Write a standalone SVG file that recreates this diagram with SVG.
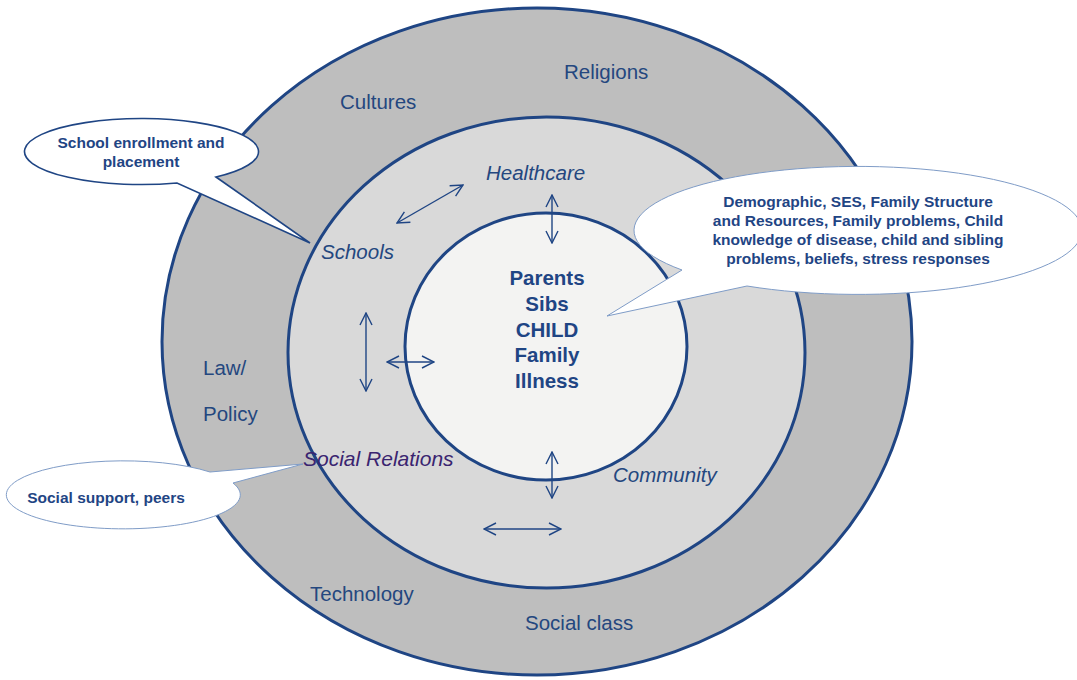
<svg xmlns="http://www.w3.org/2000/svg" width="1077" height="680" viewBox="0 0 1077 680">
  <style>
    .ring { stroke: #1f4584; stroke-width: 3; }
    .lbl { font-family: "Liberation Sans", Arial, sans-serif; font-size: 20.5px; fill: #24477f; }
    .sys { font-family: "Liberation Sans", Arial, sans-serif; font-size: 20.5px; font-style: italic; fill: #24477f; }
    .core { font-family: "Liberation Sans", Arial, sans-serif; font-size: 20.5px; font-weight: bold; fill: #1f4584; text-anchor: middle; }
    .note { font-family: "Liberation Sans", Arial, sans-serif; font-size: 15.5px; font-weight: bold; fill: #1f4584; text-anchor: middle; }
    .link { stroke: #1f4584; stroke-width: 1.4; fill: none; marker-start: url(#head); marker-end: url(#head); }
    .bubble { fill: #ffffff; stroke: #7f9cc7; stroke-width: 1; }
    .bubble-dark { fill: #ffffff; stroke: #1f4584; stroke-width: 1.6; }
  </style>
  <defs>
    <marker id="head" viewBox="0 0 14 14" refX="13" refY="7" markerWidth="14" markerHeight="14" markerUnits="userSpaceOnUse" orient="auto-start-reverse">
      <path d="M1,1 L13,7 L1,13" fill="none" stroke="#1f4584" stroke-width="1.4"/>
    </marker>
  </defs>

  <!-- outer ring: macro context -->
  <g id="outer-ring">
    <ellipse class="ring" cx="537" cy="341.5" rx="375" ry="333.5" fill="#bebebe"/>
    <text class="lbl" x="564" y="79">Religions</text>
    <text class="lbl" x="340" y="109">Cultures</text>
    <text class="lbl" x="203" y="375">Law/</text>
    <text class="lbl" x="203" y="421">Policy</text>
    <text class="lbl" x="310" y="601">Technology</text>
    <text class="lbl" x="525" y="630">Social class</text>
  </g>

  <!-- middle ring: community systems -->
  <g id="middle-ring">
    <ellipse class="ring" cx="546.5" cy="352.5" rx="258.5" ry="235.5" fill="#d9d9d9"/>
    <text class="sys" x="486" y="180">Healthcare</text>
    <text class="sys" x="321" y="259">Schools</text>
    <text class="sys" x="613" y="482">Community</text>
    <text class="sys" x="303" y="466" style="fill:#3a2470;font-size:21px">Social Relations</text>
  </g>

  <!-- inner circle: child and family -->
  <g id="core">
    <ellipse class="ring" cx="546" cy="346.5" rx="141" ry="133.5" fill="#f3f3f2"/>
    <text class="core" x="547" y="285">Parents</text>
    <text class="core" x="547" y="311">Sibs</text>
    <text class="core" x="547" y="337">CHILD</text>
    <text class="core" x="547" y="362">Family</text>
    <text class="core" x="547" y="388">Illness</text>
  </g>

  <!-- two-way influences -->
  <g id="connectors">
    <line class="link" x1="397" y1="223" x2="463" y2="185"/>
    <line class="link" x1="552" y1="195" x2="552" y2="243"/>
    <line class="link" x1="366" y1="313" x2="366" y2="391"/>
    <line class="link" x1="387" y1="362" x2="434" y2="362"/>
    <line class="link" x1="552" y1="452" x2="552" y2="498"/>
    <line class="link" x1="484" y1="529" x2="561" y2="529"/>
  </g>

  <!-- callouts -->
  <g id="callout-school">
    <path class="bubble-dark" d="M177,183 A117,33 0 1 1 216,177 L310,243 Z"/>
    <text class="note" x="141" y="148">School enrollment and</text>
    <text class="note" x="141" y="167">placement</text>
  </g>

  <g id="callout-family">
    <path class="bubble" d="M682,270 A224,64 0 1 1 747,286 L607,316 Z"/>
    <text class="note" x="858" y="207">Demographic, SES, Family Structure</text>
    <text class="note" x="858" y="226">and Resources, Family problems, Child</text>
    <text class="note" x="858" y="245">knowledge of disease, child and sibling</text>
    <text class="note" x="858" y="264">problems, beliefs, stress responses</text>
  </g>

  <g id="callout-social">
    <path class="bubble" d="M233,483 A117,34 0 1 1 210,472 L303,464 Z"/>
    <text class="note" x="106" y="503">Social support, peers</text>
  </g>
</svg>
